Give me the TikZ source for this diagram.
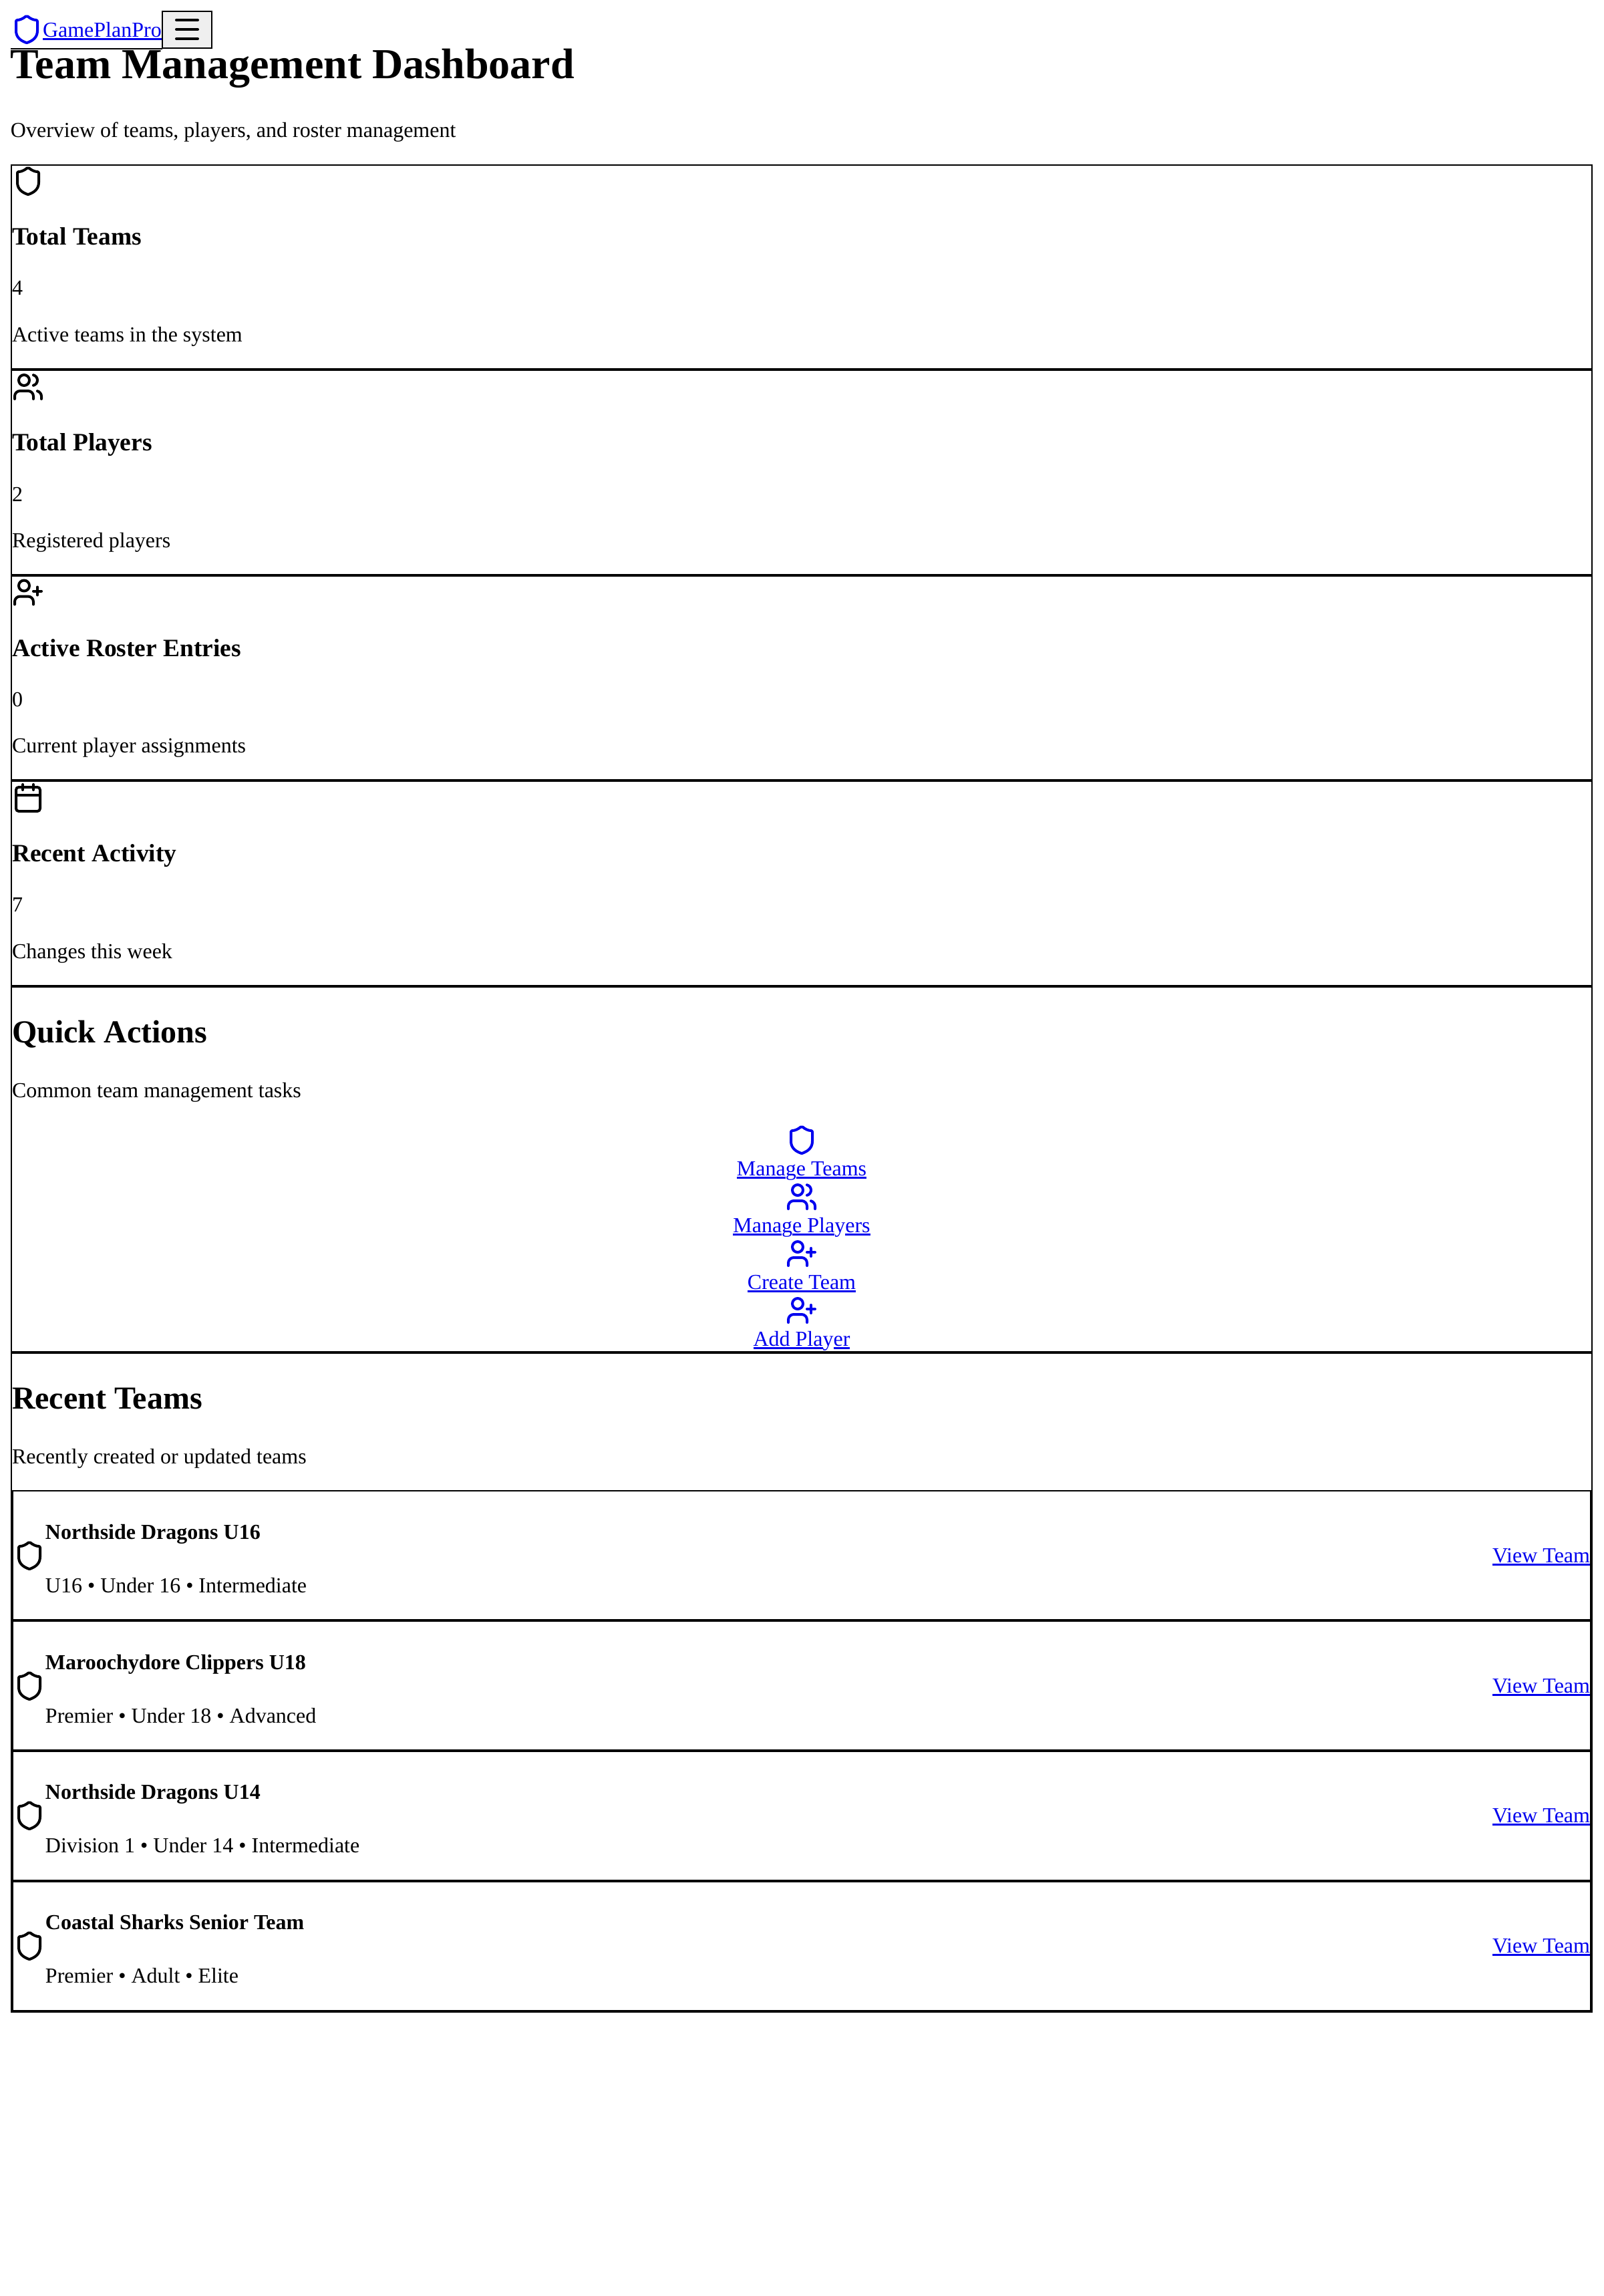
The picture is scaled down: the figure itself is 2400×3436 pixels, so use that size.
\documentclass[tikz,border=0pt]{standalone}
\usepackage{fontspec}
\setmainfont{Liberation Serif}
\usepackage{tikz}
\usetikzlibrary{positioning}

\definecolor{linkblue}{RGB}{0,0,238}
\definecolor{btngray}{RGB}{239,239,239}

\newcommand{\pxu}{0.3pt}
% underlined link text
\newcommand{\lnk}[1]{\setbox0\hbox{#1}\rlap{\raisebox{-1.5pt}{\rule{\wd0}{0.8pt}}}\box0}
% head and shoulders shared by two icons
\newcommand{\personpath}{
  \draw[pic actions] (16,21) -- (16,19) .. controls (16,16.79) and (14.21,15) .. (12,15)
    -- (6,15) .. controls (3.79,15) and (2,16.79) .. (2,19) -- (2,21);
  \draw[pic actions] (9,7) circle[radius=2.4pt];
}

\tikzset{
  cardbox/.style={draw, line width=0.6pt, outer sep=0pt, inner sep=0pt, anchor=north west,
    minimum width=2366*\pxu, minimum height=305.6*\pxu},
  rowbox/.style={draw, line width=0.6pt, outer sep=0pt, inner sep=0pt, anchor=north west,
    minimum width=2362*\pxu, minimum height=192.9*\pxu},
  menubtn/.style={draw, fill=btngray, line width=0.6pt, outer sep=0pt, inner sep=0pt,
    anchor=north west, minimum width=74*\pxu, minimum height=55*\pxu},
  txt/.style={anchor=base west, inner sep=0pt, outer sep=0pt, font=\fontsize{9.6}{12}\selectfont},
  txtbold/.style={txt, font=\fontsize{9.6}{12}\selectfont\bfseries},
  headone/.style={txt, font=\fontsize{19.2}{24}\selectfont\bfseries},
  headtwo/.style={txt, font=\fontsize{14.4}{18}\selectfont\bfseries},
  headthree/.style={txt, font=\fontsize{11.23}{14}\selectfont\bfseries},
  linktxt/.style={txt, text=linkblue},
  linkmid/.style={linktxt, anchor=base},
  iconline/.style={line width=1.2pt, line cap=round, line join=round},
  shieldicon/.pic={
    \begin{scope}[x=0.6pt, y=-0.6pt, iconline]
      \draw[pic actions] (20,13) .. controls (20,18) and (16.5,20.5) .. (12.34,21.95)
        .. controls (12.1,22.03) and (11.9,22.03) .. (11.67,21.94)
        .. controls (7.5,20.5) and (4,18) .. (4,13) -- (4,6)
        .. controls (4,5.45) and (4.45,5) .. (5,5)
        .. controls (7,5) and (9.5,3.8) .. (11.24,2.28)
        .. controls (11.7,1.9) and (12.3,1.9) .. (12.76,2.28)
        .. controls (14.51,3.81) and (17,5) .. (19,5)
        .. controls (19.55,5) and (20,5.45) .. (20,6) -- cycle;
    \end{scope}},
  usersicon/.pic={
    \begin{scope}[x=0.6pt, y=-0.6pt, iconline]
      \personpath
      \draw[pic actions] (22,21) -- (22,19) .. controls (22,17.2) and (20.7,15.6) .. (19,15.13);
      \draw[pic actions] (16,3.13) .. controls (17.8,3.6) and (19,5.2) .. (19,7)
        .. controls (19,8.8) and (17.8,10.4) .. (16,10.88);
    \end{scope}},
  userplusicon/.pic={
    \begin{scope}[x=0.6pt, y=-0.6pt, iconline]
      \personpath
      \draw[pic actions] (19,8) -- (19,14);
      \draw[pic actions] (22,11) -- (16,11);
    \end{scope}},
  calendaricon/.pic={
    \begin{scope}[x=0.6pt, y=-0.6pt, iconline]
      \draw[pic actions, rounded corners=1.2pt] (3,4) rectangle (21,22);
      \draw[pic actions] (16,2) -- (16,6);
      \draw[pic actions] (8,2) -- (8,6);
      \draw[pic actions] (3,10) -- (21,10);
    \end{scope}}
}

\begin{document}
\begin{tikzpicture}[x=0.3pt, y=-0.3pt]
  \useasboundingbox (0,0) rectangle (2400,3436);

  % Define nav bar
  \pic[draw=linkblue] at (16,20) {shieldicon};
  \node[linktxt] (Brand) at (64,55) {\lnk{GamePlanPro}};
  \node[menubtn] (MenuBtn) at (243,17) {};
  \coordinate (NavLeft) at (16,72.5);
  \draw[line width=0.6pt] (NavLeft) -- (MenuBtn.south west |- NavLeft);
  \draw[line width=1.2pt, line cap=round] (264,30) -- (296,30);
  \draw[line width=1.2pt, line cap=round] (264,44) -- (296,44);
  \draw[line width=1.2pt, line cap=round] (264,58) -- (296,58);

  % Define heading
  \node[headone] (Title) at (16,117) {Team Management Dashboard};
  \node[txt] (Subtitle) at (16,205) {Overview of teams, players, and roster management};

  % Define cards
  \node[cardbox] (CardTeams) at (17,246.5) {};
  \node[cardbox, below=0.6pt of CardTeams] (CardPlayers) {};
  \node[cardbox, below=0.6pt of CardPlayers] (CardRoster) {};
  \node[cardbox, below=0.6pt of CardRoster] (CardActivity) {};
  \node[cardbox, below=0.6pt of CardActivity, minimum height=546*\pxu] (CardActions) {};
  \node[cardbox, below=0.6pt of CardActions, minimum height=985.6*\pxu] (CardRecent) {};

  % Card contents
  \pic at (18,247) {shieldicon};
  \node[headthree] (TitleTeams) at (18,366) {Total Teams};
  \node[txt] (CountTeams) at (18,441) {4};
  \node[txt] (NoteTeams) at (18,511) {Active teams in the system};

  \pic at (18,555) {usersicon};
  \node[headthree] (TitlePlayers) at (18,674) {Total Players};
  \node[txt] (CountPlayers) at (18,750) {2};
  \node[txt] (NotePlayers) at (18,819) {Registered players};

  \pic at (18,862.5) {userplusicon};
  \node[headthree] (TitleRoster) at (18,982) {Active Roster Entries};
  \node[txt] (CountRoster) at (18,1057) {0};
  \node[txt] (NoteRoster) at (18,1126) {Current player assignments};

  \pic at (18,1170) {calendaricon};
  \node[headthree] (TitleActivity) at (18,1289) {Recent Activity};
  \node[txt] (CountActivity) at (18,1364) {7};
  \node[txt] (NoteActivity) at (18,1434) {Changes this week};

  % Quick actions
  \node[headtwo] (TitleActions) at (18,1560) {Quick Actions};
  \node[txt] (NoteActions) at (18,1642) {Common team management tasks};
  \pic[draw=linkblue] at (1176,1682) {shieldicon};
  \node[linkmid] (LinkTeams) at (1200,1759) {\lnk{Mana}g\lnk{e Teams}};
  \pic[draw=linkblue] at (1176,1767) {usersicon};
  \node[linkmid] (LinkPlayers) at (1200,1844) {\lnk{Mana}g\lnk{e Pla}y\lnk{ers}};
  \pic[draw=linkblue] at (1176,1852) {userplusicon};
  \node[linkmid] (LinkCreate) at (1200,1929) {\lnk{Create Team}};
  \pic[draw=linkblue] at (1176,1937) {userplusicon};
  \node[linkmid] (LinkAdd) at (1200,2014) {\lnk{Add Pla}y\lnk{er}};

  % Recent teams
  \node[headtwo] (TitleRecent) at (18,2108) {Recent Teams};
  \node[txt] (NoteRecent) at (18,2190) {Recently created or updated teams};

  \node[rowbox] (RowOne) at (19,2231) {};
  \node[rowbox, below=0.6pt of RowOne] (RowTwo) {};
  \node[rowbox, below=0.6pt of RowTwo] (RowThree) {};
  \node[rowbox, below=0.6pt of RowThree] (RowFour) {};

  \pic at (20,2304) {shieldicon};
  \node[txtbold] (NameOne) at (68,2303) {Northside Dragons U16};
  \node[txt] (InfoOne) at (68,2383) {U16 • Under 16 • Intermediate};
  \node[linktxt] (ViewOne) at (2234,2338) {\lnk{View Team}};

  \pic at (20,2499) {shieldicon};
  \node[txtbold] (NameTwo) at (68,2498) {Maroochydore Clippers U18};
  \node[txt] (InfoTwo) at (68,2578) {Premier • Under 18 • Advanced};
  \node[linktxt] (ViewTwo) at (2234,2533) {\lnk{View Team}};

  \pic at (20,2693) {shieldicon};
  \node[txtbold] (NameThree) at (68,2692) {Northside Dragons U14};
  \node[txt] (InfoThree) at (68,2772) {Division 1 • Under 14 • Intermediate};
  \node[linktxt] (ViewThree) at (2234,2727) {\lnk{View Team}};

  \pic at (20,2888) {shieldicon};
  \node[txtbold] (NameFour) at (68,2887) {Coastal Sharks Senior Team};
  \node[txt] (InfoFour) at (68,2967) {Premier • Adult • Elite};
  \node[linktxt] (ViewFour) at (2234,2922) {\lnk{View Team}};

\end{tikzpicture}
\end{document}
